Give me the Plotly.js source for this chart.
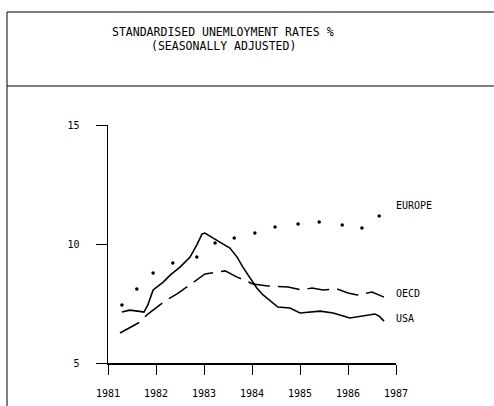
<!DOCTYPE html>
<html>
<head>
<meta charset="utf-8">
<script src="https://cdn.plot.ly/plotly-3.0.1.min.js"></script>
<style>html,body{margin:0;padding:0;background:#fff;}#chart{width:494px;height:406px;}</style>
</head>
<body>
<div id="chart"></div>
<script>
// Europe (dotted)
const europeX = [1981.29,1981.60,1981.94,1982.35,1982.85,1983.23,1983.63,1984.06,1984.48,1984.96,1985.40,1985.88,1986.29,1986.65];
const europeY = [7.44,8.11,8.78,9.20,9.45,10.04,10.25,10.46,10.71,10.84,10.92,10.80,10.67,11.18];
// USA (solid)
const usaX = [1981.29,1981.45,1981.62,1981.75,1981.83,1981.94,1982.15,1982.30,1982.50,1982.71,1982.85,1982.96,1983.02,1983.17,1983.33,1983.54,1983.69,1983.81,1983.96,1984.10,1984.23,1984.42,1984.54,1984.79,1985.00,1985.42,1985.69,1986.04,1986.31,1986.56,1986.65,1986.75];
const usaY = [7.14,7.22,7.18,7.14,7.44,8.07,8.40,8.70,9.03,9.45,9.96,10.42,10.46,10.29,10.08,9.83,9.45,9.03,8.57,8.15,7.86,7.56,7.35,7.31,7.10,7.18,7.10,6.89,6.97,7.06,6.97,6.76];
// OECD (dashed)
const oecdX = [1981.25,1981.63,1981.81,1982.19,1982.44,1982.77,1983.02,1983.44,1983.69,1984.02,1984.33,1984.75,1985.04,1985.25,1985.48,1985.77,1986.00,1986.19,1986.50,1986.75];
const oecdY = [6.26,6.68,7.02,7.61,7.90,8.36,8.74,8.87,8.61,8.32,8.24,8.19,8.07,8.15,8.07,8.11,7.94,7.86,7.98,7.77];
const xTicks = [1981,1982,1983,1984,1985,1986,1987];
const yTicks = [5,10,15];
const titleLine1 = 'STANDARDISED UNEMLOYMENT RATES %';
const titleLine2 = '(SEASONALLY ADJUSTED)';
const seriesNames = ['EUROPE','OECD','USA'];

const F = 'DejaVu Sans Mono, monospace';
const traces = [
  {x: europeX, y: europeY, mode: 'markers', marker: {color: '#000', size: 3.5}, name: seriesNames[0]},
  {x: oecdX, y: oecdY, mode: 'lines', line: {color: '#000', width: 1.5, dash: '22px,8px'}, name: seriesNames[1]},
  {x: usaX, y: usaY, mode: 'lines', line: {color: '#000', width: 1.6}, name: seriesNames[2]}
];
const L = 108, T = 125, W = 288, H = 238;
function px(v){return (v - L)/W;}
function py(v){return (T + H - v)/H;}
const layout = {
  width: 494, height: 406,
  margin: {l: 108, r: 98, t: 125, b: 43},
  paper_bgcolor: '#fff', plot_bgcolor: '#fff',
  showlegend: false,
  font: {family: F, color: '#000', size: 10},
  xaxis: {range: [1981, 1987], tickvals: xTicks, ticktext: xTicks.map(String), ticks: 'outside', ticklen: 10, tickcolor: '#000', showline: true, linecolor: '#000', linewidth: 1.5, showgrid: false, zeroline: false, ticklabelstandoff: 10, tickfont: {family: F, size: 10}},
  yaxis: {range: [5, 15], tickvals: yTicks, ticktext: yTicks.map(String), ticks: 'outside', ticklen: 11, tickcolor: '#000', showline: true, linecolor: '#000', linewidth: 1.5, showgrid: false, zeroline: false, ticklabelstandoff: 14, tickfont: {family: F, size: 10}},
  shapes: [
    {type: 'line', xref: 'paper', yref: 'paper', x0: px(7), x1: px(7), y0: py(12), y1: py(406), line: {color: '#000', width: 1}},
    {type: 'line', xref: 'paper', yref: 'paper', x0: px(7), x1: px(494), y0: py(12), y1: py(12), line: {color: '#000', width: 1}},
    {type: 'line', xref: 'paper', yref: 'paper', x0: px(7), x1: px(494), y0: py(86), y1: py(86), line: {color: '#000', width: 1}}
  ],
  annotations: [
    {xref: 'paper', yref: 'paper', x: px(223), y: py(32), xanchor: 'center', yanchor: 'middle', text: titleLine1, showarrow: false, font: {family: F, size: 11.5}},
    {xref: 'paper', yref: 'paper', x: px(223), y: py(46), xanchor: 'center', yanchor: 'middle', text: titleLine2, showarrow: false, font: {family: F, size: 11.5}},
    {xref: 'paper', yref: 'paper', x: px(394), y: py(205), xanchor: 'left', yanchor: 'middle', text: seriesNames[0], showarrow: false, font: {family: F, size: 10}},
    {xref: 'paper', yref: 'paper', x: px(394), y: py(293), xanchor: 'left', yanchor: 'middle', text: seriesNames[1], showarrow: false, font: {family: F, size: 10}},
    {xref: 'paper', yref: 'paper', x: px(394), y: py(318), xanchor: 'left', yanchor: 'middle', text: seriesNames[2], showarrow: false, font: {family: F, size: 10}}
  ]
};
Plotly.newPlot('chart', traces, layout, {displayModeBar: false, staticPlot: true});
</script>
</body>
</html>
